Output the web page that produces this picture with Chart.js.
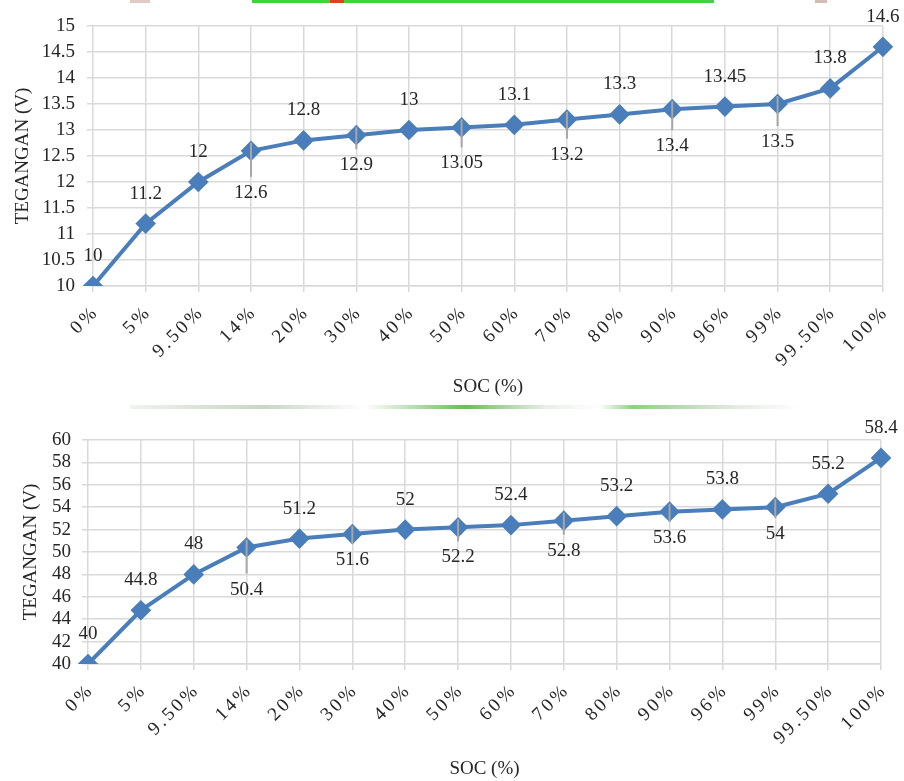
<!DOCTYPE html>
<html>
<head>
<meta charset="utf-8">
<script src="https://cdn.jsdelivr.net/npm/chart.js@4"></script>
<style>
  html, body { margin: 0; padding: 0; background: #fff; }
  body { width: 904px; height: 781px; position: relative; overflow: hidden; }
  .wrap { position: absolute; left: 0; width: 904px; }
  #top { top: 0; height: 400px; }
  #bottom { top: 398px; height: 383px; }
  .strip { position: absolute; }
</style>
</head>
<body>
<!-- bits of the photo above each chart -->
<div class="strip" style="left:130px;top:0;width:20px;height:3px;background:#c9a79c;opacity:.6"></div>
<div class="strip" style="left:252px;top:0;width:462px;height:3px;background:#41d141"></div>
<div class="strip" style="left:330px;top:0;width:14px;height:3px;background:#d9432c"></div>
<div class="strip" style="left:815px;top:0;width:12px;height:3px;background:#b98e86;opacity:.6"></div>
<div class="strip" style="left:130px;top:405px;width:670px;height:4px;background:linear-gradient(90deg,#eef3ee,#c9d6c6 20%,#fff 35%,#6cbb5c 50%,#e8efe6 62%,#fff 70%,#8fcf84 75%,#e3e9e1 90%,#fff)"></div>

<div class="wrap" id="top"><canvas id="chart12"></canvas></div>
<div class="wrap" id="bottom"><canvas id="chart48"></canvas></div>

<script>
// data
const socLabels = ['0%', '5%', '9.50%', '14%', '20%', '30%', '40%', '50%', '60%', '70%', '80%', '90%', '96%', '99%', '99.50%', '100%'];
const tegangan12 = [10, 11.2, 12, 12.6, 12.8, 12.9, 13, 13.05, 13.1, 13.2, 13.3, 13.4, 13.45, 13.5, 13.8, 14.6];
const tegangan48 = [40, 44.8, 48, 50.4, 51.2, 51.6, 52, 52.2, 52.4, 52.8, 53.2, 53.6, 53.8, 54, 55.2, 58.4];
const yRange12 = [10, 15, 0.5];
const yRange48 = [40, 60, 2];

// label placement (negative = above the point, positive = below with leader)
const labelDy12 = [-30, -30, -30, 42, -30, 30, -30, 36, -30, 35, -30, 37, -30, 38, -30, -30];
const labelDy48 = [-30, -30, -30, 42, -30, 26, -30, 30, -30, 30, -30, 26, -30, 27, -30, -30];

const FONT = "'Liberation Serif', 'Times New Roman', serif";
const BLUE = '#4a7ebb';
const GRID = '#d9d9d9';
const TEXT = '#262626';

// data labels like Excel, with leader lines for the ones below
const pointLabels = {
    id: 'pointLabels',
    afterDatasetsDraw(chart, args, opts) {
        const meta = chart.getDatasetMeta(0);
        const values = chart.data.datasets[0].data;
        const ctx = chart.ctx;
        ctx.save();
        ctx.font = '19px ' + FONT;
        ctx.textAlign = 'center';
        ctx.textBaseline = 'middle';
        meta.data.forEach((pt, i) => {
            const dy = opts.dy[i];
            const ly = pt.y + dy;
            if (dy > 0) {
                ctx.strokeStyle = '#a6a6a6';
                ctx.lineWidth = 2;
                ctx.beginPath();
                ctx.moveTo(pt.x, pt.y - 8);
                ctx.lineTo(pt.x, ly - 16);
                ctx.stroke();
            }
            ctx.fillStyle = TEXT;
            ctx.fillText(String(values[i]), pt.x, ly);
        });
        ctx.restore();
    }
};

const renderChart = (canvasId, values, yRange, dy, box) => {
    const canvas = document.getElementById(canvasId);
    return new Chart(canvas, {
        type: 'line',
        data: {
            labels: socLabels,
            datasets: [{
                data: values,
                borderColor: BLUE,
                backgroundColor: BLUE,
                borderWidth: 4,
                pointStyle: 'rectRot',
                pointRadius: 7.5,
                pointHoverRadius: 7.5,
                tension: 0,
                fill: false
            }]
        },
        options: {
            responsive: true,
            maintainAspectRatio: false,
            animation: false,
            layout: { padding: { top: box.top, right: box.right, left: 0, bottom: 0 } },
            plugins: {
                legend: { display: false },
                tooltip: { enabled: false },
                pointLabels: { dy }
            },
            scales: {
                x: {
                    offset: false,
                    grid: { color: GRID, lineWidth: 1.5, tickLength: 6, tickColor: GRID },
                    border: { color: GRID, width: 1.5 },
                    ticks: {
                        color: TEXT,
                        font: { family: FONT, size: 19 },
                        maxRotation: 45,
                        minRotation: 45,
                        autoSkip: false,
                        padding: 5
                    },
                    title: {
                        display: true,
                        text: 'SOC (%)',
                        color: TEXT,
                        font: { family: FONT, size: 19 },
                        padding: { top: 0, bottom: box.xTitlePad }
                    },
                    afterFit: (scale) => {
                        scale.height = box.xHeight;
                        // Excel spreads out the rotated category labels
                        if (!scale._spaced) {
                            const orig = scale.drawLabels.bind(scale);
                            scale.drawLabels = (area) => {
                                scale.ctx.save();
                                scale.ctx.letterSpacing = '3px';
                                scale.ctx.translate(3, 4);
                                orig(area);
                                scale.ctx.restore();
                            };
                            scale._spaced = true;
                        }
                    }
                },
                y: {
                    min: yRange[0],
                    max: yRange[1],
                    grid: { color: GRID, lineWidth: 1.5, tickLength: 6, tickColor: GRID },
                    border: { display: false },
                    ticks: {
                        stepSize: yRange[2],
                        autoSkip: false,
                        color: TEXT,
                        font: { family: FONT, size: 19 },
                        padding: box.yTickPad,
                        callback: (v) => String(Math.round(v * 100) / 100)
                    },
                    title: {
                        display: true,
                        text: 'TEGANGAN (V)',
                        color: TEXT,
                        font: { family: FONT, size: 19 },
                        padding: { top: box.yTitlePad, bottom: 0 }
                    },
                    afterFit: (scale) => { scale.width = box.left; }
                }
            }
        },
        plugins: [pointLabels]
    });
};

renderChart('chart12', tegangan12, yRange12, labelDy12,
    { top: 26, right: 20, left: 93, xHeight: 114, xTitlePad: 2, yTickPad: 12, yTitlePad: 12 });
renderChart('chart48', tegangan48, yRange48, labelDy48,
    { top: 42, right: 23, left: 88, xHeight: 117, xTitlePad: 1, yTickPad: 11, yTitlePad: 20 });
</script>
</body>
</html>
